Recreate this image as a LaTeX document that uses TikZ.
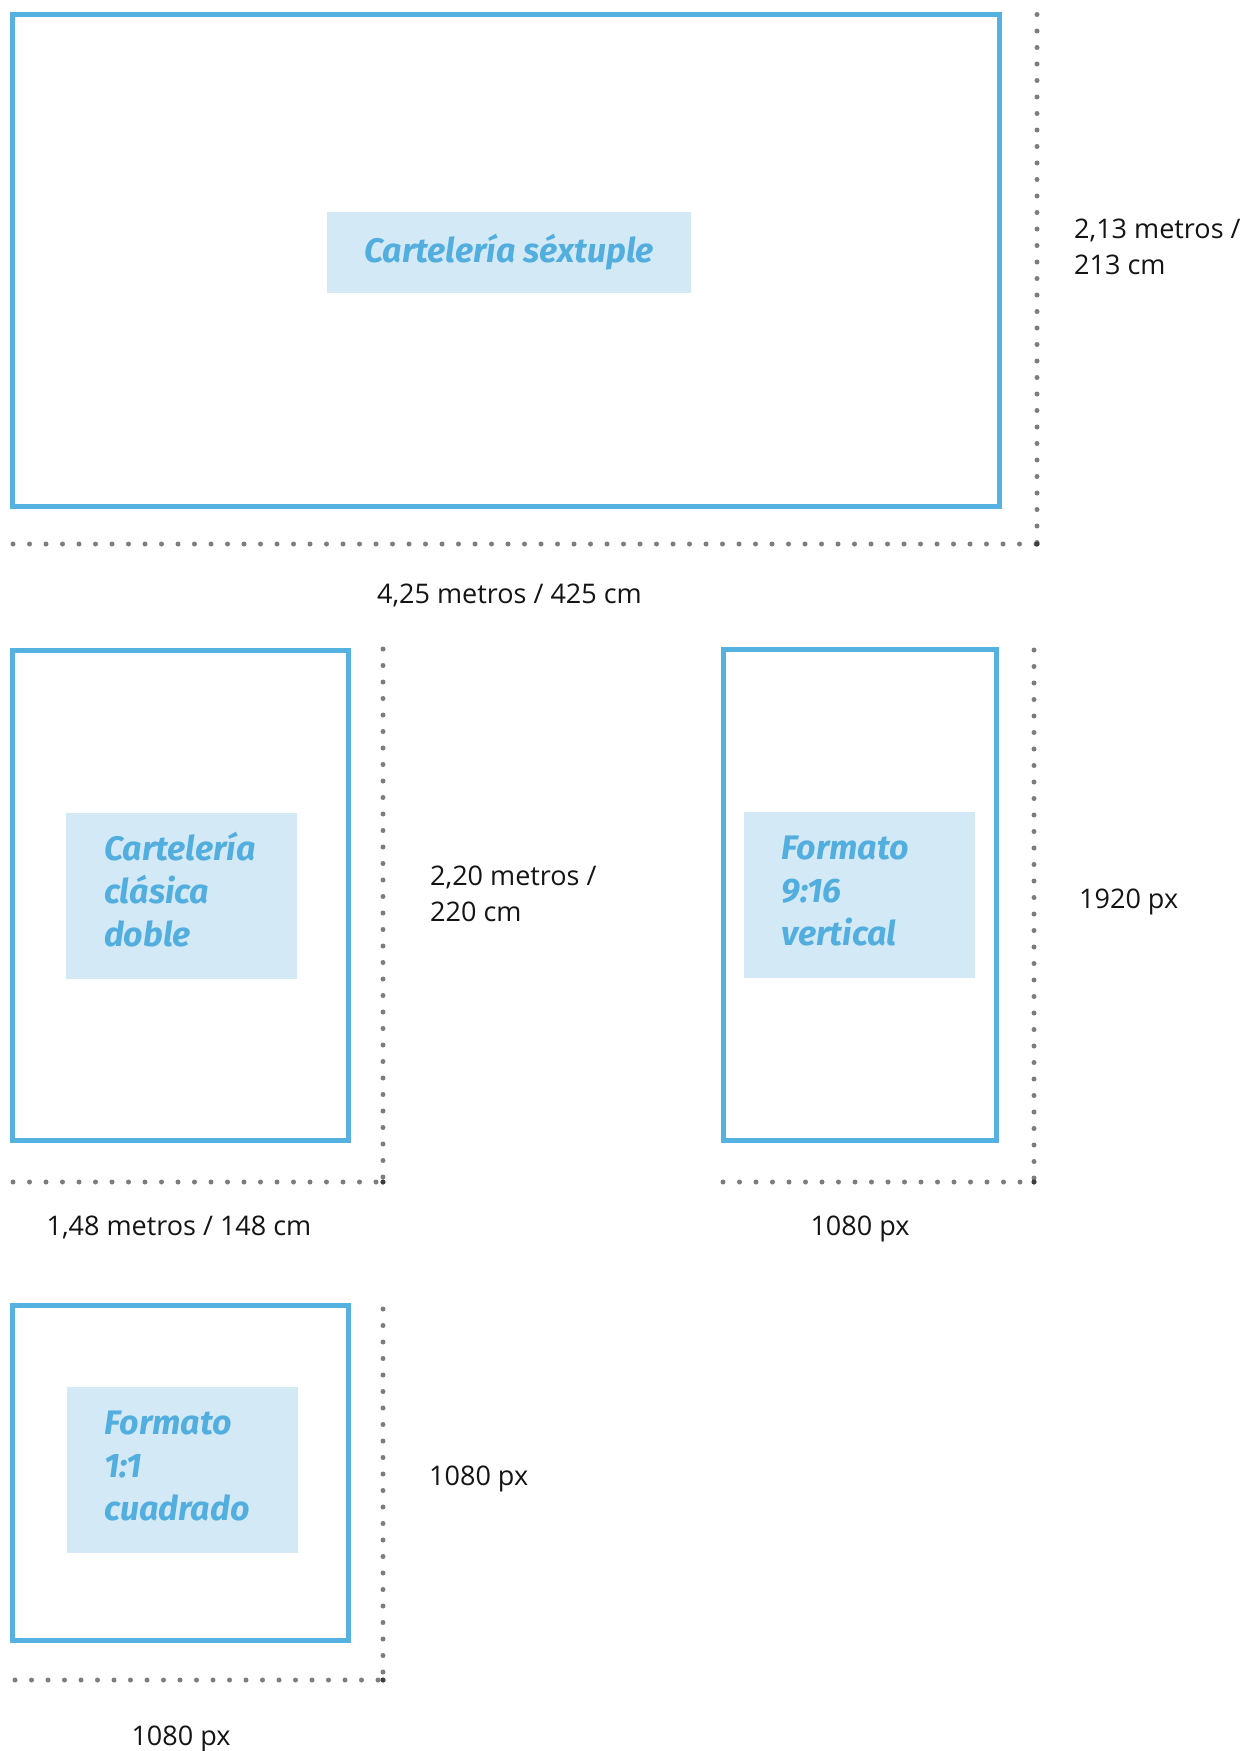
\documentclass[tikz,border=0pt]{standalone}
\usepackage{fontspec}
\setmainfont{Open Sans}
\newfontfamily\lblfont{Fira Sans}
\definecolor{frameblue}{RGB}{85,177,224}
\definecolor{lblfill}{RGB}{211,233,245}
\definecolor{lblblue}{RGB}{82,174,222}
\definecolor{dotgray}{RGB}{125,125,125}
\definecolor{cornergray}{RGB}{60,60,60}
\definecolor{dimtext}{RGB}{20,20,20}
\begin{document}
\begin{tikzpicture}[x=1pt,y=-1pt,
  frame/.style={draw=frameblue, line width=5pt, rectangle, inner sep=0pt, outer sep=0pt},
  lbl/.style={fill=lblfill, text=lblblue, rectangle, inner sep=0pt,
    font=\lblfont\bfseries\itshape\fontsize{34}{43}\selectfont},
  lblmulti/.style={lbl, text width=155pt, inner xsep=38pt, align=left, minimum height=166pt},
  dimlbl/.style={text=dimtext, inner sep=0pt, align=left,
    font=\fontsize{27}{36}\selectfont},
  dotline/.style={draw=dotgray, line width=5pt, line cap=round, dash pattern=on 0pt off 16.5pt},
  cornerdot/.style={fill=cornergray}
]
\useasboundingbox (0,0) rectangle (1242,1751);

% frames
\node[frame, minimum width=987pt, minimum height=491.5pt] (r1) at (506,260.25) {};
\node[frame, minimum width=336pt, minimum height=490.5pt] (r2) at (180.5,895.25) {};
\node[frame, minimum width=273pt, minimum height=491pt] (r3) at (860,895) {};
\node[frame, minimum width=336pt, minimum height=335.5pt] (r4) at (180.5,1472.75) {};

% labels
\node[lbl, minimum width=364pt, minimum height=81pt] (l1) at (509,252.5) {Cartelería séxtuple};
\node[lblmulti] (l2) at (181.5,895.5) {\mbox{Cartelería}\\\mbox{clásica}\\\mbox{doble}\par\vspace{11pt}};
\node[lblmulti] (l3) at (859,895) {\mbox{Formato}\\\mbox{9:16}\\\mbox{vertical}\par\vspace{8pt}};
\node[lblmulti] (l4) at (182,1470) {\mbox{Formato}\\\mbox{1:1}\\\mbox{cuadrado}\par\vspace{9pt}};

% dimension guide coordinates
\coordinate (v1s) at (1037,14.5);  \coordinate (h1s) at (13,544);  \coordinate (c1) at (1037,544);
\coordinate (v2s) at (383,649);    \coordinate (h2s) at (13,1182); \coordinate (c2) at (383,1182);
\coordinate (v3s) at (1034,650);   \coordinate (h3s) at (723,1182); \coordinate (c3) at (1034,1182);
\coordinate (v4s) at (383,1309);   \coordinate (h4s) at (15,1680); \coordinate (c4) at (383,1680);

\foreach \v/\h/\c in {v1s/h1s/c1, v2s/h2s/c2, v3s/h3s/c3, v4s/h4s/c4}{
  \draw[dotline] (\v) -- (\c);
  \draw[dotline] (\h) -- (\c);
  \fill[cornerdot] (\c) circle[radius=2.6pt];
}

% dimension texts (base anchor = baseline of last line)
\node[dimlbl, anchor=base west] (t1v) at (1074,274) {2,13 metros /\\213 cm};
\node[dimlbl, anchor=base] (t1h) at (509.5,603) {4,25 metros / 425 cm};
\node[dimlbl, anchor=base west] (t2v) at (430,921) {2,20 metros /\\220 cm};
\node[dimlbl, anchor=base] (t2h) at (179,1235) {1,48 metros / 148 cm};
\node[dimlbl, anchor=base west] (t3v) at (1079,908) {1920 px};
\node[dimlbl, anchor=base] (t3h) at (860,1235) {1080 px};
\node[dimlbl, anchor=base west] (t4v) at (429,1485) {1080 px};
\node[dimlbl, anchor=base] (t4h) at (181,1745) {1080 px};
\end{tikzpicture}
\end{document}
